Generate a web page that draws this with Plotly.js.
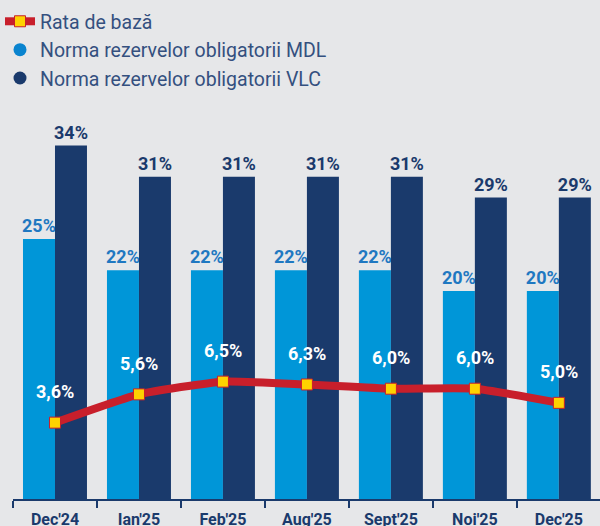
<!DOCTYPE html>
<html>
<head>
<meta charset="utf-8">
<script src="https://cdn.plot.ly/plotly-3.0.1.min.js"></script>
<style>
  html, body { margin: 0; padding: 0; background: #e6e7e9; overflow: hidden; }
  #chart { width: 600px; height: 526px; }
</style>
</head>
<body>
<div id="chart"></div>
<script>
const categories = ["Dec'24", "Ian'25", "Feb'25", "Aug'25", "Sept'25", "Noi'25", "Dec'25"];
const normaMDL = [25, 22, 22, 22, 22, 20, 20];
const normaVLC = [34, 31, 31, 31, 31, 29, 29];
const rataDeBaza = [3.6, 5.6, 6.5, 6.3, 6.0, 6.0, 5.0];

const seriesNames = {
  rate: "Rata de bază",
  mdl: "Norma rezervelor obligatorii MDL",
  vlc: "Norma rezervelor obligatorii VLC"
};

const colMDL = "#0096d8";
const colVLC = "#1a3a6c";
const colMDLText = "#1f78c1";
const colRate = "#c81f2b";
const colMarker = "#ffd200";
const fontFam = "Roboto, 'Open Sans', sans-serif";

const pct = v => v.toFixed(1).replace(".", ",") + "%";

const traces = [
  {
    type: "bar", x: categories, y: normaMDL, name: seriesNames.mdl, showlegend: false,
    marker: { color: colMDL },
    text: normaMDL.map(v => v + "%"), textposition: "outside", cliponaxis: false, constraintext: "none",
    textfont: { family: fontFam, size: 18, color: colMDLText, weight: 700 },
    hoverinfo: "skip"
  },
  {
    type: "bar", x: categories, y: normaVLC, name: seriesNames.vlc, showlegend: false,
    marker: { color: colVLC },
    text: normaVLC.map(v => v + "%"), textposition: "outside", cliponaxis: false, constraintext: "none",
    textfont: { family: fontFam, size: 18, color: colVLC, weight: 700 },
    hoverinfo: "skip"
  },
  {
    type: "scatter", mode: "lines+markers", x: categories, y: rataDeBaza, yaxis: "y2",
    name: seriesNames.rate, legendrank: 1,
    line: { color: colRate, width: 8, shape: "spline", smoothing: 0.5 },
    marker: { symbol: "square", size: 11, color: colMarker, line: { color: colRate, width: 1 } },
    hoverinfo: "skip"
  },
  {
    type: "scatter", mode: "markers", x: [null], y: [null], name: seriesNames.mdl, legendrank: 2,
    marker: { symbol: "circle", size: 13, color: "#0a84cf" }
  },
  {
    type: "scatter", mode: "markers", x: [null], y: [null], name: seriesNames.vlc, legendrank: 3,
    marker: { symbol: "circle", size: 13, color: colVLC }
  }
];

const annotations = categories.map((c, i) => ({
  x: c, y: rataDeBaza[i], xref: "x", yref: "y2",
  text: pct(rataDeBaza[i]), showarrow: false, yshift: 31,
  font: { family: fontFam, size: 18, color: "#ffffff", weight: 700 }
}));

const layout = {
  width: 600, height: 526,
  margin: { l: 13, r: 0, t: 0, b: 27, autoexpand: false },
  paper_bgcolor: "#e6e7e9", plot_bgcolor: "#e6e7e9",
  barmode: "group", bargap: 0.238, bargroupgap: 0,
  showlegend: true,
  legend: {
    xref: "container", yref: "container", x: 0, y: 0.996, xanchor: "left", yanchor: "top",
    bgcolor: "rgba(0,0,0,0)", font: { family: fontFam, size: 19.5, color: "#34507f" },
    traceorder: "normal", itemclick: false
  },
  xaxis: {
    type: "category", range: [-0.5, 6.49], tickson: "boundaries", tickangle: 0,
    ticks: "outside", ticklen: 7, tickwidth: 1.5, tickcolor: colVLC,
    showline: true, linecolor: colVLC, linewidth: 1.5, ticklabelstandoff: 5,
    showgrid: false, zeroline: false, automargin: false,
    tickfont: { family: fontFam, size: 16, color: colVLC, weight: 700 }
  },
  yaxis: {
    range: [0, 48.0], visible: false, showgrid: false, zeroline: false, fixedrange: true
  },
  yaxis2: {
    overlaying: "y", range: [-1.8, 33.49], visible: false, showgrid: false, zeroline: false
  },
  annotations: annotations
};

Plotly.newPlot("chart", traces, layout, { displayModeBar: false, staticPlot: true });
</script>
</body>
</html>
